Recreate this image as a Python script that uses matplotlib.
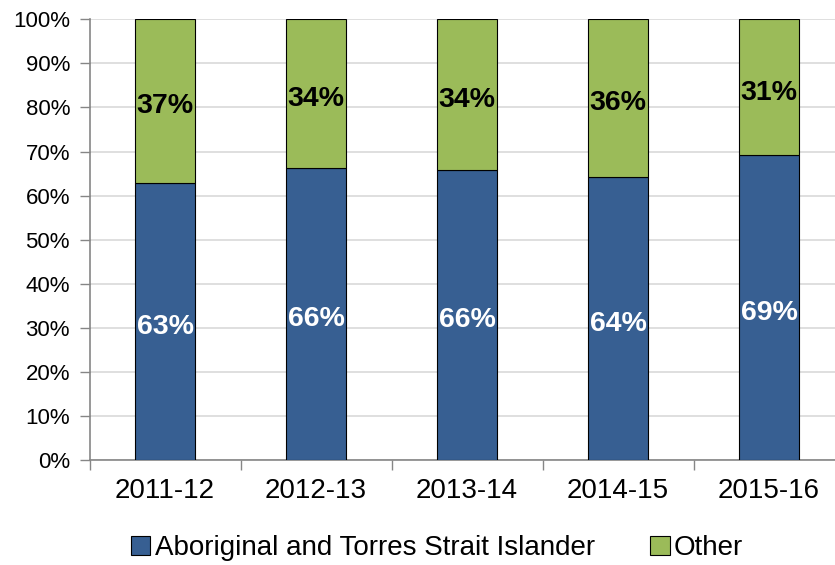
import numpy as np
import matplotlib.pyplot as plt
from matplotlib.patches import Patch

plt.rcParams['font.family'] = ['Liberation Sans', 'DejaVu Sans']

years = ['2011-12', '2012-13', '2013-14', '2014-15', '2015-16']
indig = [62.9, 66.3, 65.8, 64.2, 69.1]
other = [37.1, 33.7, 34.2, 35.8, 30.9]
indig_lbl = ['63%', '66%', '66%', '64%', '69%']
other_lbl = ['37%', '34%', '34%', '36%', '31%']

blue = '#375F92'
green = '#9BBB59'
grey = '#868686'

fig = plt.figure(figsize=(8.35, 5.65), dpi=100)
ax = fig.add_axes([89.5/835, 105/565, 755/835, 440.7/565])

x = np.arange(len(years))
ax.bar(x, indig, width=0.4, color=blue, edgecolor='black', linewidth=0.8, zorder=3)
ax.bar(x, other, width=0.4, bottom=indig, color=green, edgecolor='black', linewidth=0.8, zorder=3)

for i in range(len(x)):
    ax.text(x[i], indig[i]/2 - 1.2, indig_lbl[i], ha='center', va='center',
            color='white', fontsize=20.5, fontweight='bold', zorder=4)
    ax.text(x[i], indig[i] + other[i]/2 - 1.2, other_lbl[i], ha='center', va='center',
            color='black', fontsize=20.5, fontweight='bold', zorder=4)

ax.set_xlim(-0.5, 4.5)
ax.set_ylim(0, 100)
ax.set_yticks(np.arange(0, 101, 10))
ax.set_yticklabels([f'{v}%' for v in range(0, 101, 10)], fontsize=16)
ax.set_xticks(x)
ax.set_xticklabels(years, fontsize=20)
ax.set_xticks(np.arange(-0.5, 4.6, 1), minor=True)
ax.tick_params(axis='x', which='major', length=0, pad=13)
ax.tick_params(axis='x', which='minor', length=7, color=grey, width=1)
ax.tick_params(axis='y', length=7, color=grey, width=1, pad=7)

ax.yaxis.grid(True, color='#D9D9D9', linewidth=1.2, zorder=0)
ax.set_axisbelow(True)
for s in ['top', 'right']:
    ax.spines[s].set_visible(False)
for s in ['left', 'bottom']:
    ax.spines[s].set_color(grey)
    ax.spines[s].set_linewidth(1.2)

handles = [Patch(facecolor=blue, edgecolor='black', linewidth=0.8),
           Patch(facecolor=green, edgecolor='black', linewidth=0.8)]
fig.legend(handles, ['Aboriginal and Torres Strait Islander', 'Other'],
           loc='center', bbox_to_anchor=(437/835, 1 - 548/565), ncol=2,
           frameon=False, fontsize=20, handlelength=0.7, handleheight=0.7,
           handletextpad=0.15, columnspacing=2.0)

fig.savefig('out.png', dpi=100)
